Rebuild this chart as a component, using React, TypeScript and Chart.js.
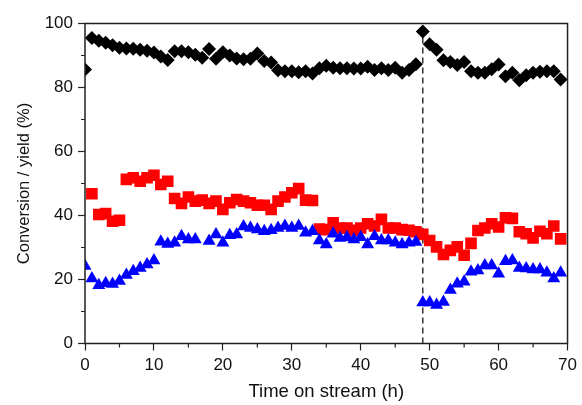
import React, { useEffect, useRef } from 'react';
import { Chart, registerables } from 'chart.js';

Chart.register(...registerables);

const hours = [
  0, 1, 2, 3, 4, 5, 6, 7, 8, 9, 10, 11, 12, 13, 14, 15, 16, 17, 18, 19,
  20, 21, 22, 23, 24, 25, 26, 27, 28, 29, 30, 31, 32, 33, 34, 35, 36, 37, 38, 39,
  40, 41, 42, 43, 44, 45, 46, 47, 48, 49, 50, 51, 52, 53, 54, 55, 56, 57, 58, 59,
  60, 61, 62, 63, 64, 65, 66, 67, 68, 69,
];

const conversion = [
  85.6, 95.5, 94.6, 94.0, 93.2, 92.4, 92.2, 92.1, 91.8, 91.5,
  90.9, 89.7, 88.6, 91.3, 91.3, 91.0, 90.2, 89.3, 92.0, 89.0,
  91.0, 90.0, 89.1, 88.8, 89.0, 90.6, 88.3, 87.8, 85.4, 85.1,
  85.1, 84.8, 85.1, 84.4, 86.0, 86.8, 86.2, 86.0, 86.0, 85.9,
  85.9, 86.5, 85.5, 86.0, 85.5, 86.2, 84.6, 85.5, 87.3, 97.5,
  93.5, 91.8, 88.5, 88.0, 87.0, 88.0, 85.1, 84.6, 84.6, 85.7,
  87.2, 83.5, 84.6, 82.3, 83.8, 84.6, 84.9, 85.1, 85.1, 82.5,
];

const yieldRed: (number | null)[] = [
  null, 46.8, 40.3, 40.6, 38.2, 38.5, 51.3, 51.8, 50.7, 51.8,
  52.6, 49.7, 50.7, 45.3, 43.8, 45.8, 44.5, 44.8, 43.8, 44.5,
  41.9, 44.0, 45.0, 44.5, 44.0, 43.2, 43.2, 41.9, 44.5, 45.8,
  47.1, 48.4, 44.8, 44.7, 35.8, 35.6, 37.7, 36.1, 36.1, 35.4,
  36.1, 37.4, 36.7, 38.8, 36.1, 36.1, 35.6, 35.4, 34.9, 34.1,
  32.2, 30.2, 27.8, 29.1, 30.2, 27.6, 31.3, 35.3, 36.1, 37.4,
  36.4, 39.3, 39.1, 34.9, 34.3, 33.0, 35.1, 34.3, 36.7, 32.7,
];

const yieldBlue: (number | null)[] = [
  24.2, 20.3, 18.2, 18.8, 18.6, 19.5, 21.4, 22.6, 23.6, 24.7,
  25.9, 31.8, 31.1, 31.5, 33.5, 32.5, 32.5, null, 32.0, 34.1,
  31.5, 33.8, 34.1, 36.6, 36.1, 35.6, 35.1, 35.4, 36.1, 36.7,
  36.1, 36.7, 34.6, 35.1, 32.2, 30.9, 34.3, 33.0, 33.2, 32.5,
  33.2, 30.9, 33.5, 32.2, 32.2, 31.5, 30.9, 31.5, 31.7, 12.8,
  12.8, 12.0, 13.0, 16.7, 18.7, 19.3, 22.4, 22.8, 24.4, 24.4,
  21.8, 25.7, 25.9, 23.6, 23.4, 23.1, 23.1, 22.1, 20.3, 22.1,
];

const switchHour = 49;
const switchLineY = [0, 97.5];
const xMinorTicks = [5, 15, 25, 35, 45, 55, 65];
const yMinorTicks = [10, 30, 50, 70, 90];

const FONT = "Arial, 'Liberation Sans', sans-serif";
const AXIS = '#222';

const toPoints = (vals: (number | null)[]) =>
  hours
    .map((h, i) => (vals[i] === null ? null : { x: h, y: vals[i] as number }))
    .filter((p) => p !== null) as { x: number; y: number }[];

const framePlugin = {
  id: 'frameMinor',
  afterDraw(chart: any) {
    const { ctx, chartArea: a, scales } = chart;
    const x = scales.x;
    const y = scales.y;
    ctx.save();
    ctx.strokeStyle = AXIS;
    ctx.lineWidth = 1.5;
    ctx.strokeRect(a.left, a.top, a.right - a.left, a.bottom - a.top);
    ctx.lineWidth = 1.2;
    ctx.beginPath();
    xMinorTicks.forEach((v) => {
      const px = x.getPixelForValue(v);
      ctx.moveTo(px, a.bottom);
      ctx.lineTo(px, a.bottom + 4);
    });
    yMinorTicks.forEach((v) => {
      const py = y.getPixelForValue(v);
      ctx.moveTo(a.left, py);
      ctx.lineTo(a.left - 4, py);
    });
    ctx.stroke();
    ctx.restore();
  },
};

export default function App() {
  const canvasRef = useRef<HTMLCanvasElement | null>(null);

  useEffect(() => {
    if (!canvasRef.current) return;
    const chart = new Chart(canvasRef.current, {
      type: 'scatter',
      data: {
        datasets: [
          {
            label: 'Yield 2',
            data: toPoints(yieldBlue),
            pointStyle: 'triangle',
            pointRadius: 7.5,
            pointBackgroundColor: '#0000ff',
            pointBorderColor: '#0000ff',
            pointBorderWidth: 0,
            showLine: false,
          },
          {
            label: 'Yield 1',
            data: toPoints(yieldRed),
            pointStyle: 'rect',
            pointRadius: 8.2,
            pointBackgroundColor: '#ff0000',
            pointBorderColor: '#ff0000',
            pointBorderWidth: 0,
            showLine: false,
          },
          {
            label: 'Conversion',
            data: toPoints(conversion),
            pointStyle: 'rectRot',
            pointRadius: 7,
            pointBackgroundColor: '#000000',
            pointBorderColor: '#000000',
            pointBorderWidth: 0,
            showLine: false,
          },
          {
            type: 'line',
            label: 'switch',
            data: switchLineY.map((v) => ({ x: switchHour, y: v })),
            borderColor: '#333',
            borderWidth: 1.5,
            borderDash: [6, 4],
            pointRadius: 0,
            showLine: true,
            fill: false,
          } as any,
        ],
      },
      options: {
        animation: false,
        responsive: true,
        maintainAspectRatio: false,
        layout: { padding: { top: 23.5, right: 11.5, left: 0, bottom: 0 } },
        plugins: { legend: { display: false }, tooltip: { enabled: false } },
        scales: {
          x: {
            type: 'linear',
            min: 0,
            max: 70,
            afterFit: (s: any) => {
              s.height = 61.5;
            },
            border: { display: false },
            grid: {
              drawOnChartArea: false,
              drawTicks: true,
              tickLength: 7,
              color: AXIS,
              tickColor: AXIS,
              tickWidth: 1.2,
            },
            ticks: {
              stepSize: 10,
              padding: 5,
              color: '#111',
              font: { family: FONT, size: 17 },
            },
            title: {
              display: true,
              text: 'Time on stream (h)',
              color: '#111',
              font: { family: FONT, size: 18.5 },
              padding: { top: 0, bottom: 2 },
            },
          },
          y: {
            type: 'linear',
            min: 0,
            max: 100,
            afterFit: (s: any) => {
              s.width = 85;
            },
            border: { display: false },
            grid: {
              drawOnChartArea: false,
              drawTicks: true,
              tickLength: 7,
              color: AXIS,
              tickColor: AXIS,
              tickWidth: 1.2,
            },
            ticks: {
              stepSize: 20,
              padding: 5,
              color: '#111',
              font: { family: FONT, size: 17 },
            },
            title: {
              display: true,
              text: 'Conversion / yield (%)',
              color: '#111',
              font: { family: FONT, size: 16.5 },
              padding: { top: 15, bottom: 0 },
            },
          },
        },
      },
      plugins: [framePlugin],
    });
    return () => chart.destroy();
  }, []);

  return (
    <div style={{ position: 'fixed', left: 0, top: 0, width: 582, height: 405, background: '#fff' }}>
      <canvas ref={canvasRef} />
    </div>
  );
}
